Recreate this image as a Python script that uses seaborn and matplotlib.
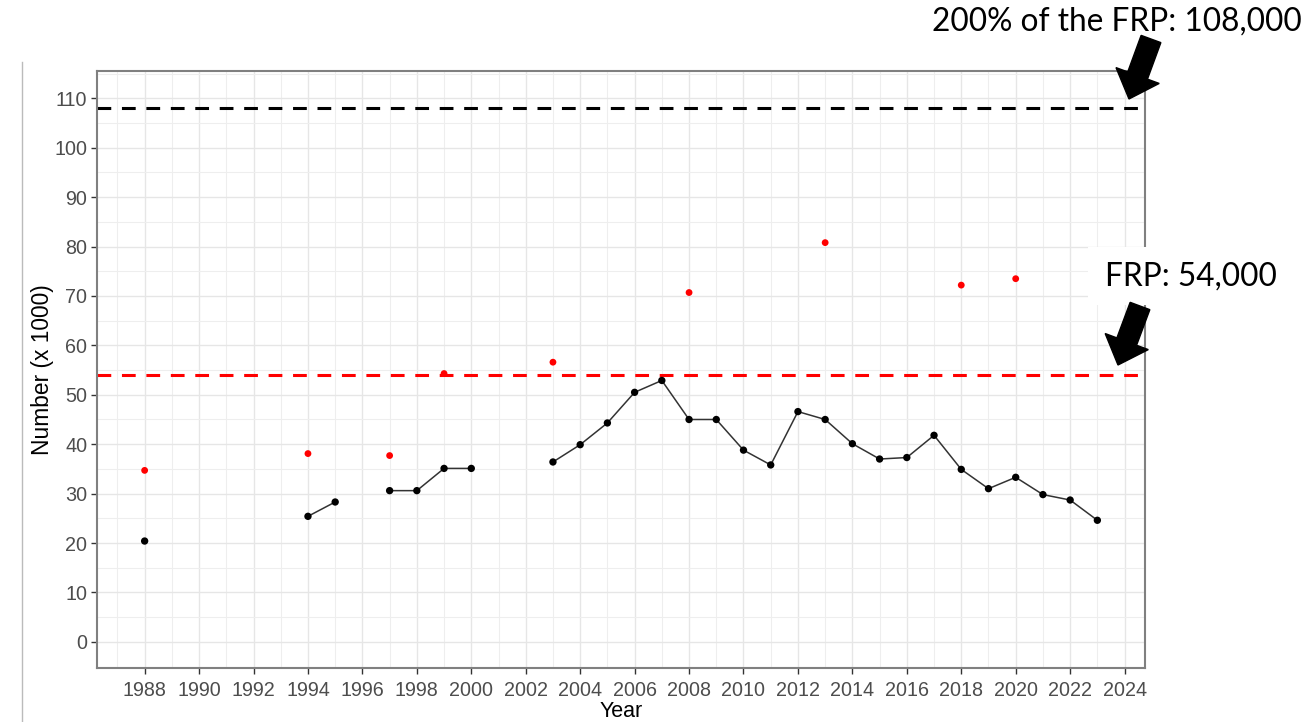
import numpy as np
import pandas as pd
import matplotlib
matplotlib.use("Agg")
import matplotlib.pyplot as plt
import seaborn as sns
from matplotlib.patches import FancyArrow, Rectangle
from matplotlib.transforms import IdentityTransform
from matplotlib.lines import Line2D

# ---- data ----
black_years = [1988, 1994, 1995, 1997, 1998, 1999, 2000,
               2003, 2004, 2005, 2006, 2007, 2008, 2009, 2010, 2011, 2012,
               2013, 2014, 2015, 2016, 2017, 2018, 2019, 2020, 2021, 2022, 2023]
black_values = [20.4, 25.4, 28.3, 30.6, 30.6, 35.1, 35.1,
                36.4, 39.9, 44.3, 50.5, 52.9, 45.0, 45.0, 38.8, 35.8, 46.6,
                45.0, 40.1, 37.0, 37.3, 41.8, 34.9, 31.0, 33.3, 29.8, 28.7, 24.6]
red_years = [1988, 1994, 1997, 1999, 2003, 2008, 2013, 2018, 2020]
red_values = [34.7, 38.1, 37.7, 54.3, 56.6, 70.7, 80.8, 72.2, 73.5]
frp = 54
frp200 = 108
x_ticks = list(range(1988, 2025, 2))
y_ticks = list(range(0, 111, 10))
label_top = "200% of the FRP: 108,000"
label_frp = "FRP: 54,000"

# segments (break line where years are not consecutive)
seg = np.cumsum(np.r_[0, np.diff(black_years) > 1])
df_black = pd.DataFrame({"year": black_years, "value": black_values, "seg": seg})
df_red = pd.DataFrame({"year": red_years, "value": red_values})

W, H = 1309, 722
fig = plt.figure(figsize=(W / 100, H / 100), dpi=100)
ax = fig.add_axes([97 / W, 1 - 668 / H, (1145 - 97) / W, (668 - 70.7) / H])
ax.set_facecolor("white")

# grid
ax.set_xlim(1986.25, 2024.75)
ax.set_ylim(-5.3, 115.6)
ax.set_xticks(x_ticks)
ax.set_xticks(list(range(1987, 2025, 2)), minor=True)
ax.set_yticks(y_ticks)
ax.set_yticks(list(range(5, 116, 10)) + [-5], minor=True)
ax.grid(True, which="major", color="#E6E6E6", lw=1.0, zorder=0)
ax.grid(True, which="minor", color="#EEEEEE", lw=0.8, zorder=0)
ax.set_axisbelow(True)

# reference lines
ax.axhline(frp200, color="black", lw=2.2, ls=(0, (4.5, 3.5)), zorder=2)
ax.axhline(frp, color="#FF0000", lw=2.2, ls=(0, (4.5, 3.5)), zorder=2)

# data
sns.lineplot(data=df_black, x="year", y="value", units="seg", estimator=None,
             color="#333333", lw=1.1, ax=ax, legend=False, zorder=3)
sns.scatterplot(data=df_black, x="year", y="value", color="black", s=28,
                edgecolor="none", ax=ax, legend=False, zorder=4)
sns.scatterplot(data=df_red, x="year", y="value", color="#FF0000", s=24,
                edgecolor="none", ax=ax, legend=False, zorder=4)

# axes styling
for sp in ax.spines.values():
    sp.set_color("#808080")
    sp.set_linewidth(1.5)
ax.tick_params(axis="both", which="major", length=4, width=1, color="#333333",
               labelsize=14.2, labelcolor="#4D4D4D")
ax.tick_params(axis="x", which="major", pad=5)
ax.tick_params(axis="y", which="major", pad=3)
ax.tick_params(axis="both", which="minor", length=0)
for lab in ax.get_xticklabels() + ax.get_yticklabels():
    lab.set_family("Liberation Sans")
ax.set_xlabel("Year", fontsize=15.5, family="Liberation Sans", labelpad=1)
ax.set_ylabel("Number (x 1000)", fontsize=16.4, family="Liberation Sans", labelpad=0)

# left gray line of slide
fig.add_artist(Line2D([22 / W, 22 / W], [0, 1 - 62 / H], transform=fig.transFigure,
                      color="#BBBBBB", lw=1))

# white box behind FRP label
fig.add_artist(Rectangle((1088, H - 305), W - 1088, 58, transform=IdentityTransform(),
                         facecolor="white", edgecolor="none", zorder=5))

fig.text(1302 / W, 1 - 22 / H, label_top, ha="right", va="center",
         fontsize=22.8, family="Lato", color="black", zorder=6)
fig.text(1277 / W, 1 - 277 / H, label_frp, ha="right", va="center",
         fontsize=22.8, family="Lato", color="black", zorder=6)

# block arrows (pixel coordinates)
def block_arrow(x0, y0, x1, y1):
    dx, dy = x1 - x0, -(y1 - y0)
    fig.add_artist(FancyArrow(x0, H - y0, dx, dy, width=21, head_width=46,
                              head_length=25, length_includes_head=True,
                              transform=IdentityTransform(), color="black", zorder=7))

block_arrow(1151, 39, 1129, 99)
block_arrow(1140, 306, 1118, 365)

fig.savefig("out.png", dpi=100)
